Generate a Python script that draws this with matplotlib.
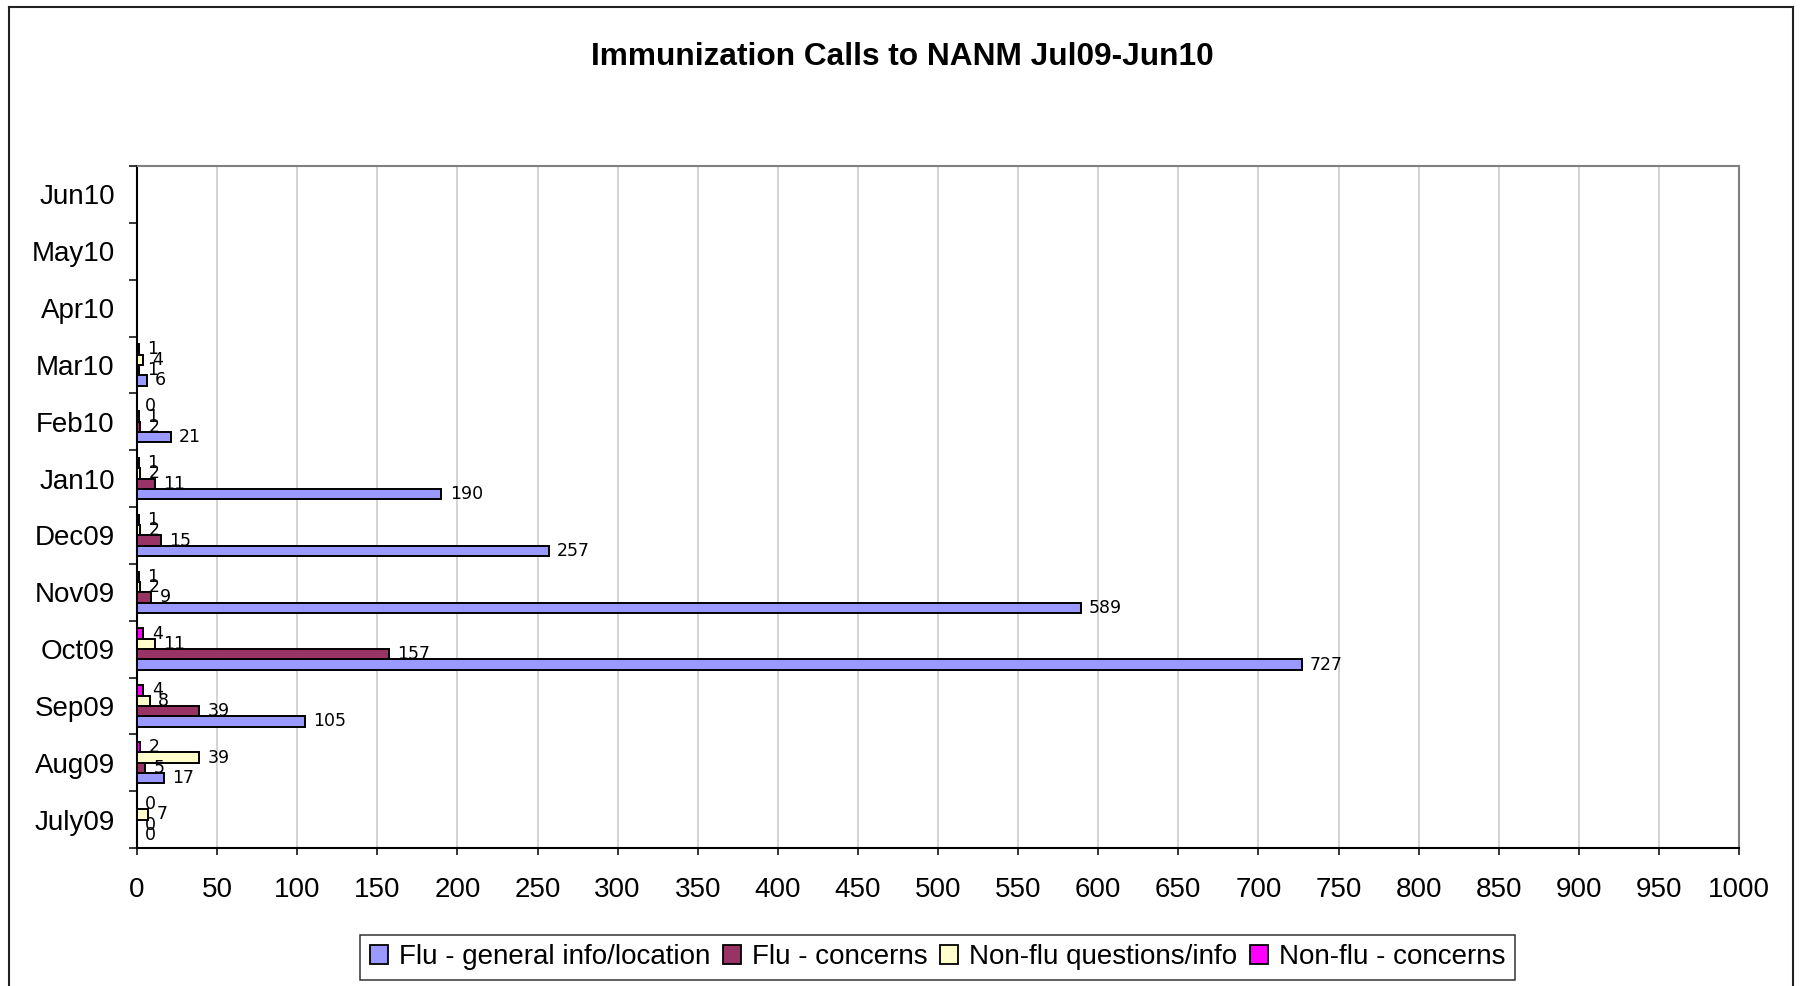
import numpy as np
import matplotlib
matplotlib.use("Agg")
import matplotlib.pyplot as plt
from matplotlib.lines import Line2D
from matplotlib.patches import Patch

months = ["July09", "Aug09", "Sep09", "Oct09", "Nov09", "Dec09",
          "Jan10", "Feb10", "Mar10", "Apr10", "May10", "Jun10"]
nan = np.nan
flu_general = [0, 17, 105, 727, 589, 257, 190, 21, 6, nan, nan, nan]
flu_concerns = [0, 5, 39, 157, 9, 15, 11, 2, 1, nan, nan, nan]
nonflu_questions = [7, 39, 8, 11, 2, 2, 2, 1, 4, nan, nan, nan]
nonflu_concerns = [0, 2, 4, 4, 1, 1, 1, 0, 1, nan, nan, nan]

series_names = ["Flu - general info/location", "Flu - concerns",
                "Non-flu questions/info", "Non-flu - concerns"]
series_values = [flu_general, flu_concerns, nonflu_questions, nonflu_concerns]
colors = ["#9999FF", "#993366", "#FFFFCC", "#FF00FF"]
xticks = list(range(0, 1001, 50))

W, H = 1801, 986
fig = plt.figure(figsize=(W / 100, H / 100), dpi=100)
ax = fig.add_axes([137 / W, 1 - 848 / H, (1739 - 137) / W, (848 - 166) / H])

sans = "Liberation Sans"
bw = 1 / 5.5
y = np.arange(len(months))
for i, (vals, c) in enumerate(zip(series_values, colors)):
    off = (i - 1.5) * bw
    v = np.array(vals, dtype=float)
    ax.barh(y + off, v, height=bw, color=c, edgecolor="black", linewidth=1.4, zorder=3)
    for yi, val in zip(y, v):
        if not np.isnan(val):
            ax.annotate(f"{int(val)}", xy=(val, yi + off), xytext=(6, 0),
                        textcoords="offset points", ha="left", va="center",
                        fontsize=12.5, family="DejaVu Sans", color="black", zorder=4)

ax.set_xlim(0, 1000)
ax.set_ylim(-0.5, len(months) - 0.5)
ax.set_xticks(xticks)
ax.set_xticklabels([str(t) for t in xticks], family=sans, fontsize=20)
ax.set_yticks(y)
ax.set_yticklabels(months, family=sans, fontsize=20)
ax.set_yticks(np.arange(-0.5, len(months), 1), minor=True)
ax.tick_params(axis="y", which="major", length=0, pad=16)
ax.tick_params(axis="y", which="minor", length=6, width=1.1, direction="out", color="black")
ax.tick_params(axis="x", which="major", length=5, width=1.1, direction="out", pad=16, color="black")

for xv in xticks[1:-1]:
    ax.axvline(xv, color="#c8c8c8", linewidth=1.1, zorder=1)

ax.spines["left"].set_color("black")
ax.spines["bottom"].set_color("black")
ax.spines["top"].set_color("#808080")
ax.spines["right"].set_color("#808080")
for s in ax.spines.values():
    s.set_linewidth(1.5)
ax.set_axisbelow(False)

fig.text(902 / W, 1 - 57 / H, "Immunization Calls to NANM Jul09-Jun10",
         ha="center", va="center", fontsize=22.8, fontweight="bold", family=sans)

handles = [Patch(facecolor=c, edgecolor="black", linewidth=1.3) for c in colors]
leg = fig.legend(handles, series_names, loc="center",
                 bbox_to_anchor=(937.5 / W, 1 - 957.5 / H), ncol=4,
                 prop={"family": sans, "size": 20}, frameon=True, fancybox=False,
                 edgecolor="black", handlelength=0.65, handleheight=0.65,
                 handletextpad=0.4, columnspacing=0.45, borderpad=0.35,
                 borderaxespad=0)
leg.get_frame().set_linewidth(1.1)

# outer chart border
for xs, ys in [([9, 9], [0, H - 7]), ([9, 1793], [H - 7, H - 7]), ([1793, 1793], [0, H - 7])]:
    fig.add_artist(Line2D([x / W for x in xs], [v / H for v in ys], color="#222222",
                          linewidth=1.5, transform=fig.transFigure))

fig.savefig("out.png", dpi=100)
